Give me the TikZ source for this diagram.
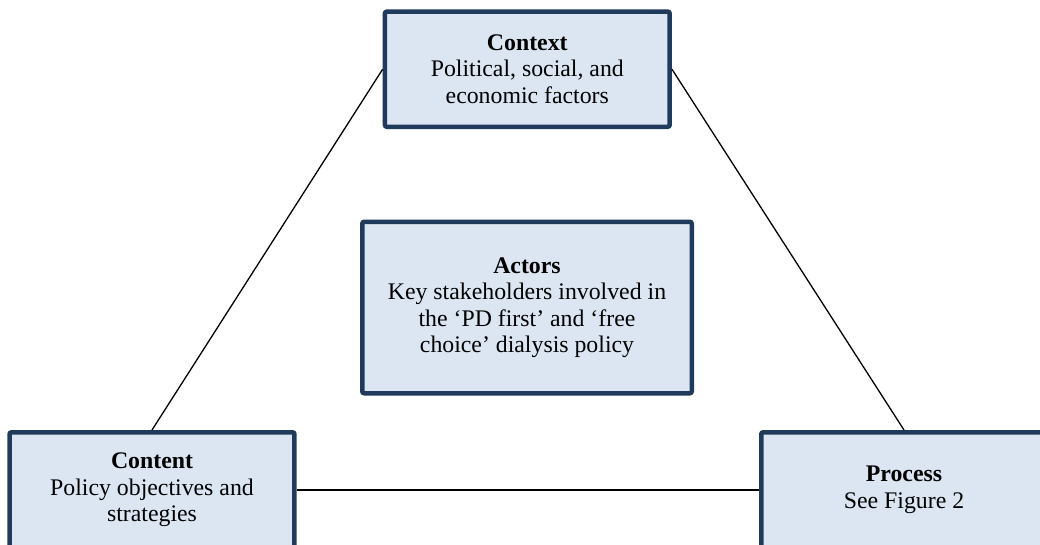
\documentclass[tikz,border=0pt]{standalone}
\usepackage{fontspec}
\setmainfont{Liberation Serif}
\definecolor{boxfill}{HTML}{DCE6F2}
\definecolor{boxline}{HTML}{203A5C}
\begin{document}
\begin{tikzpicture}[x=1pt,y=-1pt,
  fbox/.style={draw=boxline, fill=boxfill, line width=4.5pt, rounded corners=2pt,
    align=center, inner sep=0pt,
    font=\fontsize{23.8}{26.5}\selectfont},
  link/.style={line width=1.3pt, black}]
\useasboundingbox (0,0) rectangle (1040,544);
\node[fbox, minimum width=284.8pt, minimum height=115.2pt] (context) at (527.3,69.2)
  {\textbf{Context}\\Political, social, and\\economic factors};
\node[fbox, minimum width=329.5pt, minimum height=171.5pt] (actors) at (527,307.5)
  {\textbf{Actors}\\Key stakeholders involved in\\the ‘PD first’ and ‘free\\choice’ dialysis policy};
\node[fbox, minimum width=284.9pt, minimum height=115.5pt] (content) at (152,490)
  {\textbf{Content}\\Policy objectives and\\strategies};
\node[fbox, minimum width=285.5pt, minimum height=115.5pt] (process) at (904,490)
  {\textbf{Process}\\See Figure 2};
\draw[link] (context.west) -- (content.north);
\draw[link] (context.east) -- (process.north);
\draw[link] (content.east) -- (process.west);
\end{tikzpicture}
\end{document}
